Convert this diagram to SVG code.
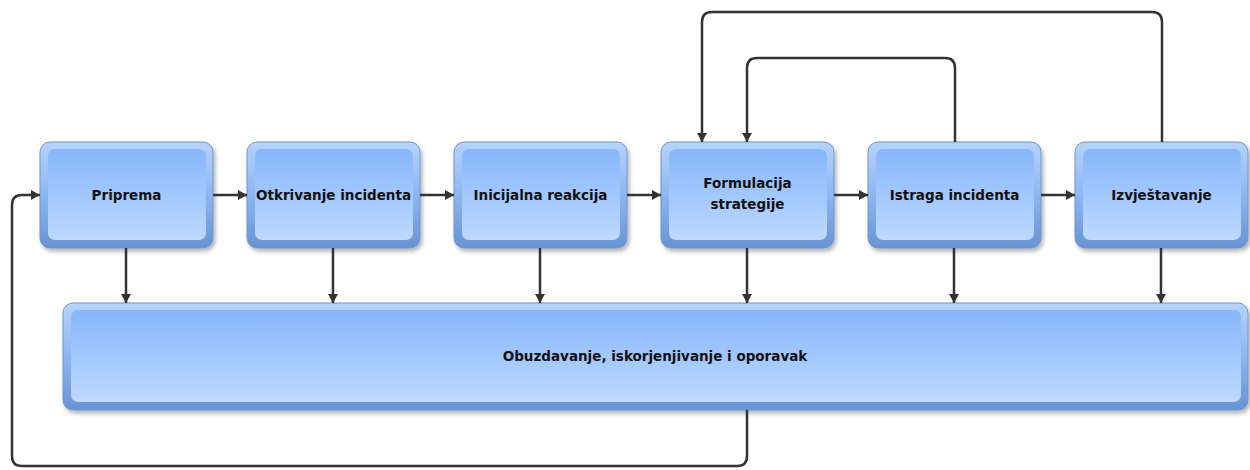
<svg xmlns="http://www.w3.org/2000/svg" width="1250" height="470" viewBox="0 0 1250 470">
<defs>
<linearGradient id="ring" x1="0" y1="0" x2="0" y2="1">
<stop offset="0" stop-color="#b6d3fb"/>
<stop offset="0.5" stop-color="#8db6f0"/>
<stop offset="1" stop-color="#6893d2"/>
</linearGradient>
<linearGradient id="face" x1="0" y1="0" x2="0" y2="1">
<stop offset="0" stop-color="#87b6fb"/>
<stop offset="1" stop-color="#bdd9fe"/>
</linearGradient>
<filter id="sh" x="-10%" y="-10%" width="125%" height="130%">
<feDropShadow dx="2" dy="3" stdDeviation="2" flood-color="#000" flood-opacity="0.3"/>
</filter>
<marker id="ah" markerUnits="userSpaceOnUse" markerWidth="12" markerHeight="12" refX="10" refY="6" orient="auto" viewBox="0 0 12 12">
<path d="M1,1 L10,6 L1,11 z" fill="#333"/>
</marker>
</defs>
<style>
.ring{fill:url(#ring);stroke:#6d96d2;stroke-width:1;filter:url(#sh)}
.face{fill:url(#face)}
.lbl{font-family:"DejaVu Sans",Verdana,sans-serif;font-weight:bold;font-size:13.5px;fill:#111;text-anchor:middle}
.c{fill:none;stroke:#333;stroke-width:2.5;marker-end:url(#ah)}
</style>
<g id="n-priprema">
<rect class="ring" x="40" y="142" width="173" height="106" rx="10"/>
<rect class="face" x="48" y="149" width="158" height="91" rx="7"/>
<text class="lbl" x="126.5" y="200">Priprema</text>
</g>
<g id="n-otkrivanje">
<rect class="ring" x="247" y="142" width="173" height="106" rx="10"/>
<rect class="face" x="255" y="149" width="158" height="91" rx="7"/>
<text class="lbl" x="333.5" y="200">Otkrivanje incidenta</text>
</g>
<g id="n-inicijalna">
<rect class="ring" x="454" y="142" width="173" height="106" rx="10"/>
<rect class="face" x="462" y="149" width="158" height="91" rx="7"/>
<text class="lbl" x="540.5" y="200">Inicijalna reakcija</text>
</g>
<g id="n-formulacija">
<rect class="ring" x="661" y="142" width="173" height="106" rx="10"/>
<rect class="face" x="669" y="149" width="158" height="91" rx="7"/>
<text class="lbl" x="747.5" y="188">Formulacija</text>
<text class="lbl" x="747.5" y="209">strategije</text>
</g>
<g id="n-istraga">
<rect class="ring" x="868" y="142" width="173" height="106" rx="10"/>
<rect class="face" x="876" y="149" width="158" height="91" rx="7"/>
<text class="lbl" x="954.5" y="200">Istraga incidenta</text>
</g>
<g id="n-izvjestavanje">
<rect class="ring" x="1075" y="142" width="173" height="106" rx="10"/>
<rect class="face" x="1083" y="149" width="158" height="91" rx="7"/>
<text class="lbl" x="1161.5" y="200">Izvještavanje</text>
</g>
<g id="n-obuzdavanje">
<rect class="ring" x="63" y="303" width="1185" height="107" rx="10"/>
<rect class="face" x="71" y="310" width="1170" height="92" rx="7"/>
<text class="lbl" x="655" y="361">Obuzdavanje, iskorjenjivanje i oporavak</text>
</g>
<g id="connectors">
<path class="c" d="M213,195 H247"/>
<path class="c" d="M420,195 H454"/>
<path class="c" d="M627,195 H661"/>
<path class="c" d="M834,195 H868"/>
<path class="c" d="M1041,195 H1075"/>
<path class="c" d="M126,248 V303"/>
<path class="c" d="M333,248 V303"/>
<path class="c" d="M540,248 V303"/>
<path class="c" d="M747,248 V303"/>
<path class="c" d="M954,248 V303"/>
<path class="c" d="M1161,248 V303"/>
<path class="c" d="M747,410 V456 Q747,466 737,466 H22 Q12,466 12,456 V205 Q12,195 22,195 H40"/>
<path class="c" d="M1162,142 V22 Q1162,12 1152,12 H712 Q702,12 702,22 V142"/>
<path class="c" d="M955,142 V68 Q955,58 945,58 H757 Q747,58 747,68 V142"/>
</g>
</svg>
